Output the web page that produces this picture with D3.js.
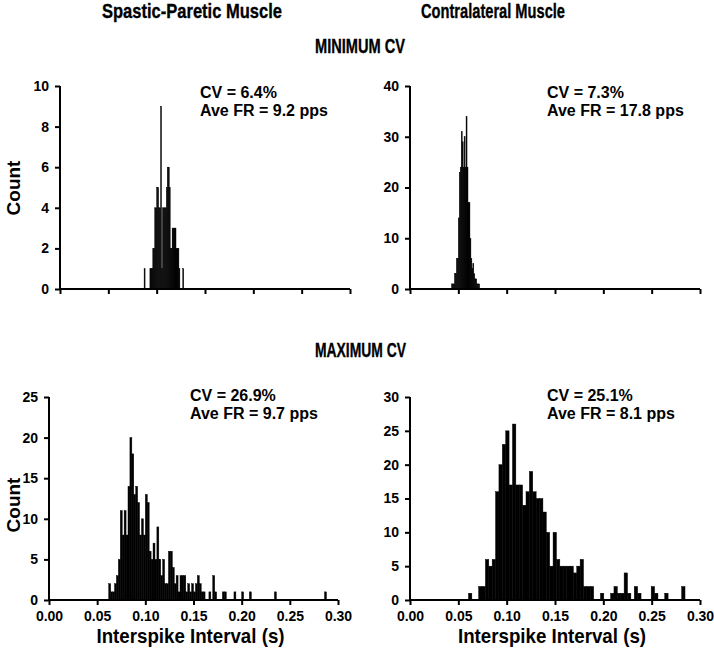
<!DOCTYPE html>
<html>
<head>
<meta charset="utf-8">
<script src="https://cdn.jsdelivr.net/npm/d3@7"></script>
<style>
  html, body { margin: 0; padding: 0; background: #fff; }
  svg { display: block; }
  text { font-family: "Liberation Sans", Arial, Helvetica, sans-serif; font-weight: bold; fill: #000; }
</style>
</head>
<body>
<svg id="chart" width="714" height="657"></svg>
<script>
// ---------- DATA ----------
const columnTitles = ["Spastic-Paretic Muscle", "Contralateral Muscle"];
const rowTitles = ["MINIMUM CV", "MAXIMUM CV"];
const yAxisLabel = "Count";
const xAxisLabel = "Interspike Interval (s)";
const xTickValues = [0, 0.05, 0.10, 0.15, 0.20, 0.25, 0.30];

// Top-left: spastic-paretic, minimum CV (bin width 1 ms)
const tlBinWidth = 0.001;
const tlBins   = [0.087,0.093,0.094,0.095,0.096,0.097,0.098,0.099,0.100,0.101,0.102,0.103,0.104,0.105,0.106,0.107,0.108,0.109,0.110,0.111,0.112,0.113,0.114,0.115,0.116,0.117,0.118,0.119,0.120,0.121,0.122,0.123,0.127];
const tlCounts = [1,    1,    1,    1,    2,    2,    4,    4,    5,    5,    4,    4,    9,    1,    4,    4,    4,    4,    5,    6,    6,    5,    2,    2,    3,    3,    3,    3,    2,    2,    2,    1,    1];
const tlYTicks = [0, 2, 4, 6, 8, 10];
const tlNote = ["CV = 6.4%", "Ave FR = 9.2 pps"];

// Top-right: contralateral, minimum CV (bin width 1 ms)
const trBinWidth = 0.001;
const trBins   = [0.043,0.044,0.045,0.046,0.047,0.048,0.049,0.050,0.051,0.052,0.053,0.054,0.055,0.056,0.057,0.058,0.059,0.060,0.061,0.062,0.063,0.064,0.065,0.066,0.067,0.068,0.069,0.070,0.071];
const trCounts = [1,    1,    1,    3,    3,    6,    6,    14,   23,   24,   31,   29,   24,   30,   24,   34,   24,   17,   17,   10,   6,    4,    5,    3,    2,    2,    1,    1,    1];
const trYTicks = [0, 10, 20, 30, 40];
const trNote = ["CV = 7.3%", "Ave FR = 17.8 pps"];

// Bottom-left: spastic-paretic, maximum CV (bin width 2 ms)
const blBinWidth = 0.002;
const blBins   = [0.062,0.064,0.066,0.068,0.070,0.072,0.074,0.076,0.078,0.080,0.082,0.084,0.086,0.088,0.090,0.092,0.094,0.096,0.098,0.100,0.102,0.104,0.106,0.108,0.110,0.112,0.114,0.116,0.118,0.120,0.122,0.124,0.126,0.128,0.130,0.132,0.134,0.136,0.138,0.140,0.142,0.144,0.146,0.148,0.150,0.152,0.154,0.156,0.158,0.160,0.166,0.170,0.172,0.180,0.182,0.192,0.200,0.208,0.234,0.286];
const blCounts = [2,    1,    1,    2,    3,    5,    11,   8,    11,   8,    14,   20,   18,   13,   14,   12,   8,    10,   8,    13,   12,   6,    5,    7,    5,    9,    5,    3,    5,    2,    2,    6,    6,    4,    2,    3,    1,    3,    3,    3,    1,    2,    1,    2,    1,    2,    3,    2,    1,    1,    1,    3,    1,    1,    1,    1,    1,    1,    1,    1];
const blYTicks = [0, 5, 10, 15, 20, 25];
const blNote = ["CV = 26.9%", "Ave FR = 9.7 pps"];

// Bottom-right: contralateral, maximum CV (bin width 3.5 ms)
const brBinWidth = 0.0035;
const brBins   = [0.0605,0.0710,0.0745,0.0780,0.0815,0.0850,0.0885,0.0920,0.0955,0.0990,0.1025,0.1060,0.1095,0.1130,0.1165,0.1200,0.1235,0.1270,0.1305,0.1340,0.1375,0.1410,0.1445,0.1480,0.1515,0.1550,0.1585,0.1620,0.1655,0.1690,0.1725,0.1760,0.1795,0.1830,0.1865,0.1970,0.2075,0.2110,0.2145,0.2180,0.2215,0.2250,0.2320,0.2355,0.2495,0.2530,0.2635,0.2810];
const brCounts = [1,     2,     2,     6,     5,     6,     16,    20,    23,    25,    17,    26,    17,    17,    14,    16,    19,    16,    15,    15,    13,    10,    5,     10,    6,     5,     5,     5,     5,     4,     5,     6,     2,     2,     2,     1,     1,     2,     1,     1,     4,     1,     2,     1,     2,     1,     1,     2];
const brYTicks = [0, 5, 10, 15, 20, 25, 30];
const brNote = ["CV = 25.1%", "Ave FR = 8.1 pps"];

// ---------- LAYOUT ----------
const svg = d3.select("#chart");

const panels = [
  { bins: tlBins, counts: tlCounts, bw: tlBinWidth, yTicks: tlYTicks, note: tlNote,
    left: 60, right: 350, top: 86, bottom: 289, xLabels: false, noteX: 200, noteY: 98, countY: 188 },
  { bins: trBins, counts: trCounts, bw: trBinWidth, yTicks: trYTicks, note: trNote,
    left: 410, right: 700, top: 86, bottom: 289, xLabels: false, noteX: 547, noteY: 98, countY: null },
  { bins: blBins, counts: blCounts, bw: blBinWidth, yTicks: blYTicks, note: blNote,
    left: 49, right: 338, top: 397, bottom: 600, xLabels: true, noteX: 190, noteY: 401, countY: 505 },
  { bins: brBins, counts: brCounts, bw: brBinWidth, yTicks: brYTicks, note: brNote,
    left: 410, right: 700, top: 397, bottom: 600, xLabels: true, noteX: 547, noteY: 401, countY: null }
];

panels.forEach(p => {
  const x = d3.scaleLinear().domain([0, 0.30]).range([p.left, p.right]);
  const y = d3.scaleLinear().domain([0, d3.max(p.yTicks)]).range([p.bottom, p.top]);
  const g = svg.append("g");

  // bars
  g.append("g").selectAll("rect")
    .data(p.bins.map((b, i) => ({ x0: b, c: p.counts[i] })))
    .join("rect")
    .attr("x", d => x(d.x0))
    .attr("width", d => x(d.x0 + p.bw) - x(d.x0))
    .attr("y", d => y(d.c))
    .attr("height", d => y(0) - y(d.c))
    .attr("fill", "#000")
    .attr("stroke", "#000")
    .attr("stroke-width", 0.45);

  // x axis
  const xAxis = d3.axisBottom(x).tickValues(xTickValues).tickSize(5).tickPadding(6)
    .tickFormat(p.xLabels ? d3.format(".2f") : "");
  const gx = g.append("g").attr("transform", `translate(0,${p.bottom})`).call(xAxis);
  gx.select(".domain").attr("stroke", "#000").attr("stroke-width", 2).attr("d", `M${p.left},0H${p.right}`);
  gx.selectAll(".tick line").attr("stroke", "#000").attr("stroke-width", 2);
  gx.selectAll(".tick text").attr("font-size", 14).attr("font-family", "Liberation Sans, Arial, sans-serif")
    .attr("font-weight", "bold").attr("fill", "#000");

  // y axis
  const yAxis = d3.axisLeft(y).tickValues(p.yTicks).tickSize(5).tickPadding(6).tickFormat(d3.format("d"));
  const gy = g.append("g").attr("transform", `translate(${p.left},0)`).call(yAxis);
  gy.select(".domain").attr("stroke", "#000").attr("stroke-width", 2).attr("d", `M0,${p.top}V${p.bottom}`);
  gy.selectAll(".tick line").attr("stroke", "#000").attr("stroke-width", 2);
  gy.selectAll(".tick text").attr("font-size", 14).attr("font-family", "Liberation Sans, Arial, sans-serif")
    .attr("font-weight", "bold").attr("fill", "#000");

  // annotation
  p.note.forEach((t, i) => {
    g.append("text").attr("x", p.noteX).attr("y", p.noteY + i * 18)
      .attr("font-size", 16).text(t);
  });

  // y label
  if (p.countY !== null) {
    g.append("text").attr("transform", `translate(20,${p.countY}) rotate(-90)`)
      .attr("text-anchor", "middle").attr("font-size", 19).text(yAxisLabel);
  }
  // x label
  if (p.xLabels) {
    const cx = (p.left + p.right) / 2 - 3;
    g.append("text").attr("x", cx - 94).attr("y", 643)
      .attr("font-size", 20.5)
      .attr("textLength", 188).attr("lengthAdjust", "spacingAndGlyphs")
      .text(xAxisLabel);
  }
});

// column titles & row titles (condensed bold, like Arial Narrow)
function condensed(txt, x0, base, size, width) {
  svg.append("text").attr("x", x0).attr("y", base)
    .attr("font-size", size)
    .attr("stroke", "#000").attr("stroke-width", 0.35)
    .attr("textLength", width).attr("lengthAdjust", "spacingAndGlyphs")
    .text(txt);
}
condensed(columnTitles[0], 102, 18, 21, 180);
condensed(columnTitles[1], 421, 18, 21, 144);
condensed(rowTitles[0], 315, 53, 21, 90);
condensed(rowTitles[1], 315, 357, 21, 91);
</script>
</body>
</html>
